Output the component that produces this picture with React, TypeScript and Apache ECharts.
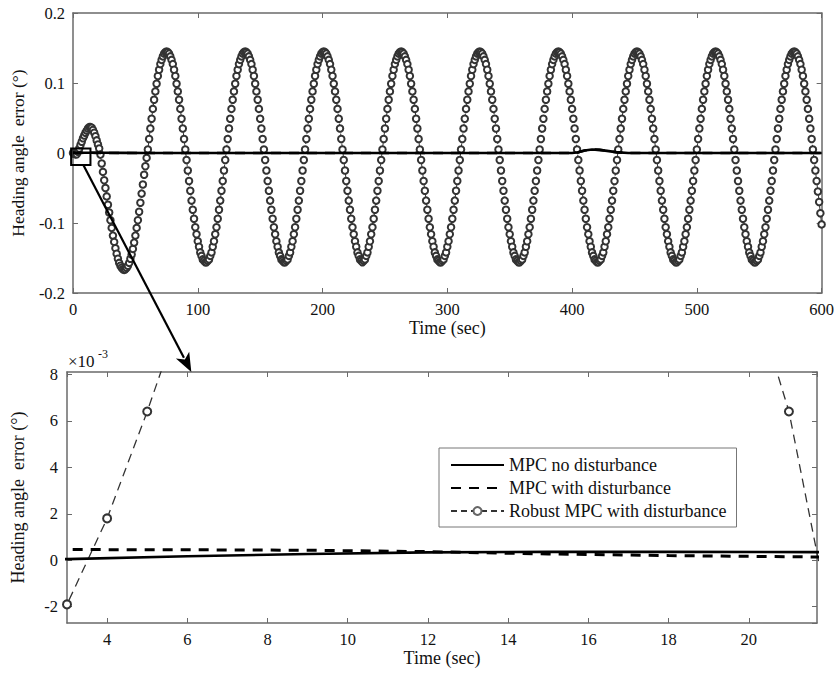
import React, { useEffect, useRef } from "react";
import * as echarts from "echarts";

// ---- Robust MPC with disturbance: heading angle error (deg), sampled every 1 s, t = 0..600
const robustStep = 1;
const robust: number[] = [
  // t 0-74
  0, -0.001, -0.002, -0.0019, 0.0018, 0.0064, 0.0114, 0.016, 0.021, 0.025,
  0.029, 0.032, 0.035, 0.037, 0.037, 0.036, 0.033, 0.029, 0.024, 0.018,
  0.0121, 0.0064, -0.0023, -0.015, -0.027, -0.039, -0.05, -0.062, -0.074, -0.085,
  -0.096, -0.107, -0.118, -0.127, -0.136, -0.144, -0.151, -0.157, -0.161, -0.164,
  -0.166, -0.167, -0.166, -0.164, -0.161, -0.157, -0.151, -0.145, -0.137, -0.128,
  -0.118, -0.107, -0.096, -0.084, -0.071, -0.058, -0.045, -0.031, -0.019, -0.007,
  0.005, 0.02, 0.035, 0.049, 0.063, 0.076, 0.088, 0.099, 0.11, 0.119,
  0.127, 0.133, 0.138, 0.142, 0.144,
  // t 75-137
  0.145, 0.144, 0.142, 0.138, 0.133, 0.127, 0.119, 0.11, 0.099, 0.088, 0.076, 0.063, 0.049, 0.035, 0.02, 0.005, -0.01, -0.025, -0.04, -0.054, -0.068, -0.081, -0.094, -0.106, -0.116, -0.126, -0.134, -0.142, -0.147, -0.152, -0.154, -0.156, -0.156, -0.154, -0.152, -0.147, -0.142, -0.134, -0.126, -0.116, -0.106, -0.094, -0.081, -0.068, -0.054, -0.04, -0.025, -0.01, 0.005, 0.02, 0.035, 0.049, 0.063, 0.076, 0.088, 0.099, 0.11, 0.119, 0.127, 0.133, 0.138, 0.142, 0.144,
  // t 138-200
  0.145, 0.144, 0.142, 0.138, 0.133, 0.127, 0.119, 0.11, 0.099, 0.088, 0.076, 0.063, 0.049, 0.035, 0.02, 0.005, -0.01, -0.025, -0.04, -0.054, -0.068, -0.081, -0.094, -0.106, -0.116, -0.126, -0.134, -0.142, -0.147, -0.152, -0.154, -0.156, -0.156, -0.154, -0.152, -0.147, -0.142, -0.134, -0.126, -0.116, -0.106, -0.094, -0.081, -0.068, -0.054, -0.04, -0.025, -0.01, 0.005, 0.02, 0.035, 0.049, 0.063, 0.076, 0.088, 0.099, 0.11, 0.119, 0.127, 0.133, 0.138, 0.142, 0.144,
  // t 201-262
  0.145, 0.144, 0.142, 0.138, 0.133, 0.127, 0.119, 0.11, 0.099, 0.088, 0.076, 0.063, 0.049, 0.035, 0.02, 0.005, -0.01, -0.025, -0.04, -0.054, -0.068, -0.081, -0.094, -0.106, -0.116, -0.126, -0.134, -0.142, -0.147, -0.152, -0.154, -0.156, -0.154, -0.152, -0.147, -0.142, -0.134, -0.126, -0.116, -0.106, -0.094, -0.081, -0.068, -0.054, -0.04, -0.025, -0.01, 0.005, 0.02, 0.035, 0.049, 0.063, 0.076, 0.088, 0.099, 0.11, 0.119, 0.127, 0.133, 0.138, 0.142, 0.144,
  // t 263-325
  0.145, 0.144, 0.142, 0.138, 0.133, 0.127, 0.119, 0.11, 0.099, 0.088, 0.076, 0.063, 0.049, 0.035, 0.02, 0.005, -0.01, -0.025, -0.04, -0.054, -0.068, -0.081, -0.094, -0.106, -0.116, -0.126, -0.134, -0.142, -0.147, -0.152, -0.154, -0.156, -0.156, -0.154, -0.152, -0.147, -0.142, -0.134, -0.126, -0.116, -0.106, -0.094, -0.081, -0.068, -0.054, -0.04, -0.025, -0.01, 0.005, 0.02, 0.035, 0.049, 0.063, 0.076, 0.088, 0.099, 0.11, 0.119, 0.127, 0.133, 0.138, 0.142, 0.144,
  // t 326-388
  0.145, 0.144, 0.142, 0.138, 0.133, 0.127, 0.119, 0.11, 0.099, 0.088, 0.076, 0.063, 0.049, 0.035, 0.02, 0.005, -0.01, -0.025, -0.04, -0.054, -0.068, -0.081, -0.094, -0.106, -0.116, -0.126, -0.134, -0.142, -0.147, -0.152, -0.154, -0.156, -0.156, -0.154, -0.152, -0.147, -0.142, -0.134, -0.126, -0.116, -0.106, -0.094, -0.081, -0.068, -0.054, -0.04, -0.025, -0.01, 0.005, 0.02, 0.035, 0.049, 0.063, 0.076, 0.088, 0.099, 0.11, 0.119, 0.127, 0.133, 0.138, 0.142, 0.144,
  // t 389-451
  0.145, 0.144, 0.142, 0.138, 0.133, 0.127, 0.119, 0.11, 0.099, 0.088, 0.076, 0.063, 0.049, 0.035, 0.02, 0.005, -0.01, -0.025, -0.04, -0.054, -0.068, -0.081, -0.094, -0.106, -0.116, -0.126, -0.134, -0.142, -0.147, -0.152, -0.154, -0.156, -0.156, -0.154, -0.152, -0.147, -0.142, -0.134, -0.126, -0.116, -0.106, -0.094, -0.081, -0.068, -0.054, -0.04, -0.025, -0.01, 0.005, 0.02, 0.035, 0.049, 0.063, 0.076, 0.088, 0.099, 0.11, 0.119, 0.127, 0.133, 0.138, 0.142, 0.144,
  // t 452-514
  0.145, 0.144, 0.142, 0.138, 0.133, 0.127, 0.119, 0.11, 0.099, 0.088, 0.076, 0.063, 0.049, 0.035, 0.02, 0.005, -0.01, -0.025, -0.04, -0.054, -0.068, -0.081, -0.094, -0.106, -0.116, -0.126, -0.134, -0.142, -0.147, -0.152, -0.154, -0.156, -0.156, -0.154, -0.152, -0.147, -0.142, -0.134, -0.126, -0.116, -0.106, -0.094, -0.081, -0.068, -0.054, -0.04, -0.025, -0.01, 0.005, 0.02, 0.035, 0.049, 0.063, 0.076, 0.088, 0.099, 0.11, 0.119, 0.127, 0.133, 0.138, 0.142, 0.144,
  // t 515-577
  0.145, 0.144, 0.142, 0.138, 0.133, 0.127, 0.119, 0.11, 0.099, 0.088, 0.076, 0.063, 0.049, 0.035, 0.02, 0.005, -0.01, -0.025, -0.04, -0.054, -0.068, -0.081, -0.094, -0.106, -0.116, -0.126, -0.134, -0.142, -0.147, -0.152, -0.154, -0.156, -0.156, -0.154, -0.152, -0.147, -0.142, -0.134, -0.126, -0.116, -0.106, -0.094, -0.081, -0.068, -0.054, -0.04, -0.025, -0.01, 0.005, 0.02, 0.035, 0.049, 0.063, 0.076, 0.088, 0.099, 0.11, 0.119, 0.127, 0.133, 0.138, 0.142, 0.144,
  // t 578-600
  0.145, 0.144, 0.142, 0.138, 0.133, 0.127, 0.119, 0.11, 0.099, 0.088, 0.076, 0.063, 0.049, 0.035, 0.02, 0.005, -0.01, -0.025, -0.04, -0.055, -0.07, -0.086, -0.102,
];

// ---- MPC controllers (deg)
const mpcTime = [0, 3, 6, 9, 12, 15, 18, 21.7, 25, 40, 60, 100, 200, 300, 400, 405, 410, 416, 422, 428, 435, 445, 500, 600];
const mpcNoDist = [0, 0.00005, 0.00017, 0.00027, 0.00034, 0.00036, 0.00036, 0.00035, 0.0003, 0.0002, 0.0001, 0, 0, 0, 0, 0.001, 0.0035, 0.005, 0.0045, 0.003, 0.0012, 0, 0, 0];
const mpcDist = [0.0005, 0.00046, 0.00045, 0.00043, 0.00037, 0.00027, 0.0002, 0.00014, 0.0001, 0.00005, 0, 0, 0, 0, 0, 0.001, 0.0035, 0.005, 0.0045, 0.003, 0.0012, 0, 0, 0];

const seriesNames = ["MPC no disturbance", "MPC with disturbance", "Robust MPC with disturbance"];
const topXTicks = { min: 0, max: 600, interval: 100 };
const topYTicks = { min: -0.2, max: 0.2, interval: 0.1 };
const zoomX = { min: 3, max: 21.7, step: 2 };
const zoomY = { min: -2.7, max: 8.1, step: 2 };
const zoomScale = 1000; // bottom panel in units of 10^-3 deg
const zoomBox = { x0: -1.5, x1: 14, y0: -0.017, y1: 0.0065 };
const arrowFrom = [8.3, -0.017];
const arrowTo = [6.1, 8.1];

const FONT = '"Liberation Serif", "Times New Roman", serif';
const AXIS_COLOR = "#6a6a6a";
const TEXT_COLOR = "#111";

function axisBase(extra: any) {
  return {
    type: "value",
    axisLine: { show: true, onZero: false, lineStyle: { color: AXIS_COLOR, width: 1.5 } },
    axisTick: { show: true, inside: true, length: 5, lineStyle: { color: AXIS_COLOR, width: 1 } },
    splitLine: { show: false },
    axisLabel: { color: TEXT_COLOR, fontSize: 16.5, fontFamily: FONT, margin: 8 },
    ...extra,
  };
}

export default function App() {
  const ref = useRef<HTMLDivElement>(null);
  useEffect(() => {
    if (!ref.current) return;
    const chart = echarts.init(ref.current, null, { renderer: "svg" });

    const robustPairs = robust.map((v, i) => [i * robustStep, v]);
    const zoomRobust = robust
      .map((v, i) => [i * robustStep, v * zoomScale])
      .filter((p) => p[0] >= 2 && p[0] <= 23);
    const noDistPairs = mpcTime.map((t, i) => [t, mpcNoDist[i]]);
    const distPairs = mpcTime.map((t, i) => [t, mpcDist[i]]);
    const noDistZoom = mpcTime.map((t, i) => [t, mpcNoDist[i] * zoomScale]);
    const distZoom = mpcTime.map((t, i) => [t, mpcDist[i] * zoomScale]);

    const fmt1 = (v: number) => String(Math.round(v * 10) / 10);
    const nameStyle = { color: TEXT_COLOR, fontSize: 18, fontFamily: FONT };
    const hiddenSymbol = { color: "#000", opacity: 0 };

    const option: any = {
      animation: false,
      backgroundColor: "#fff",
      color: ["#000", "#000", "#333"],
      textStyle: { fontFamily: FONT },
      grid: [
        { left: 73, right: 13, top: 13, bottom: 384, containLabel: false },
        { left: 67, right: 20, top: 372, bottom: 54, containLabel: false },
      ],
      xAxis: [
        axisBase({
          gridIndex: 0, position: "bottom", ...topXTicks,
          name: "Time (sec)", nameLocation: "middle", nameGap: 25, nameTextStyle: nameStyle,
        }),
        axisBase({ gridIndex: 0, position: "top", ...topXTicks, axisLabel: { show: false } }),
        axisBase({
          gridIndex: 1, position: "bottom", min: zoomX.min, max: zoomX.max,
          minInterval: zoomX.step, maxInterval: zoomX.step, splitNumber: 9,
          axisLabel: { color: TEXT_COLOR, fontSize: 16.5, fontFamily: FONT, margin: 8, showMinLabel: false, showMaxLabel: false },
          name: "Time (sec)", nameLocation: "middle", nameGap: 25, nameTextStyle: nameStyle,
        }),
        axisBase({
          gridIndex: 1, position: "top", min: zoomX.min, max: zoomX.max,
          minInterval: zoomX.step, maxInterval: zoomX.step, splitNumber: 9,
          axisLabel: { show: false },
        }),
      ],
      yAxis: [
        axisBase({
          gridIndex: 0, position: "left", ...topYTicks,
          axisLabel: { color: TEXT_COLOR, fontSize: 16.5, fontFamily: FONT, margin: 8, formatter: fmt1 },
          name: "Heading angle  error (°)", nameLocation: "middle", nameGap: 46,
          nameTextStyle: { ...nameStyle, fontSize: 17.5 },
        }),
        axisBase({ gridIndex: 0, position: "right", ...topYTicks, axisLabel: { show: false } }),
        axisBase({
          gridIndex: 1, position: "left", min: zoomY.min, max: zoomY.max,
          minInterval: zoomY.step, maxInterval: zoomY.step, splitNumber: 5,
          axisLabel: { color: TEXT_COLOR, fontSize: 16.5, fontFamily: FONT, margin: 9, showMinLabel: false, showMaxLabel: false },
          name: "Heading angle  error (°)", nameLocation: "middle", nameGap: 40,
          nameTextStyle: { ...nameStyle, fontSize: 18 },
        }),
        axisBase({
          gridIndex: 1, position: "right", min: zoomY.min, max: zoomY.max,
          minInterval: zoomY.step, maxInterval: zoomY.step, splitNumber: 5,
          axisLabel: { show: false },
        }),
      ],
      legend: {
        data: [
          { name: seriesNames[0], itemStyle: hiddenSymbol },
          { name: seriesNames[1], itemStyle: hiddenSymbol },
          { name: seriesNames[2], itemStyle: { color: "#666", borderColor: "#222", borderWidth: 1.2 } },
        ],
        orient: "vertical",
        left: 439,
        top: 448,
        padding: [8, 10, 7, 11],
        itemGap: 5,
        itemWidth: 53,
        itemHeight: 10,
        backgroundColor: "#fff",
        borderColor: "#777",
        borderWidth: 1,
        selectedMode: false,
        textStyle: { color: TEXT_COLOR, fontSize: 18, fontFamily: FONT },
      },
      series: [
        {
          name: seriesNames[2], type: "line", xAxisIndex: 0, yAxisIndex: 0,
          data: robustPairs, symbol: "emptyCircle", symbolSize: 6.5, showSymbol: true,
          itemStyle: { color: "#333", borderWidth: 1.6 },
          lineStyle: { color: "#333", width: 1, type: [6, 4] }, z: 2,
        },
        {
          name: seriesNames[0], type: "line", xAxisIndex: 0, yAxisIndex: 0,
          data: noDistPairs, symbol: "none", itemStyle: hiddenSymbol,
          lineStyle: { color: "#000", width: 2.6 }, z: 3,
        },
        {
          name: seriesNames[1], type: "line", xAxisIndex: 0, yAxisIndex: 0,
          data: distPairs, symbol: "none", itemStyle: hiddenSymbol,
          lineStyle: { color: "#000", width: 2.6, type: [10, 8] }, z: 3,
        },
        {
          name: seriesNames[0], type: "line", xAxisIndex: 2, yAxisIndex: 2,
          data: noDistZoom, symbol: "none", itemStyle: hiddenSymbol,
          lineStyle: { color: "#000", width: 2.6 }, z: 3, clip: true,
        },
        {
          name: seriesNames[1], type: "line", xAxisIndex: 2, yAxisIndex: 2,
          data: distZoom, symbol: "none", itemStyle: hiddenSymbol,
          lineStyle: { color: "#000", width: 3, type: [10, 8] }, z: 3, clip: true,
        },
        {
          name: seriesNames[2], type: "line", xAxisIndex: 2, yAxisIndex: 2,
          data: zoomRobust, symbol: "emptyCircle", symbolSize: 8, showSymbol: true,
          itemStyle: { color: "#333", borderWidth: 1.5 },
          lineStyle: { color: "#333", width: 1.3, type: [9, 6] }, z: 2, clip: true,
        },
      ],
    };
    chart.setOption(option);

    const tl = chart.convertToPixel({ xAxisIndex: 0, yAxisIndex: 0 }, [zoomBox.x0, zoomBox.y1]) as number[];
    const br = chart.convertToPixel({ xAxisIndex: 0, yAxisIndex: 0 }, [zoomBox.x1, zoomBox.y0]) as number[];
    const a0 = chart.convertToPixel({ xAxisIndex: 0, yAxisIndex: 0 }, arrowFrom) as number[];
    const a1 = chart.convertToPixel({ xAxisIndex: 2, yAxisIndex: 2 }, arrowTo) as number[];
    const dx = a1[0] - a0[0];
    const dy = a1[1] - a0[1];
    const len = Math.sqrt(dx * dx + dy * dy);
    const ux = dx / len;
    const uy = dy / len;
    const headLen = 19;
    const headHalf = 7.5;
    const bx = a1[0] - ux * headLen;
    const by = a1[1] - uy * headLen;
    const grid1 = chart.convertToPixel({ xAxisIndex: 2, yAxisIndex: 2 }, [zoomX.min, zoomY.max]) as number[];

    chart.setOption({
      graphic: [
        {
          type: "rect", z: 100,
          shape: { x: tl[0], y: tl[1], width: br[0] - tl[0], height: br[1] - tl[1] },
          style: { fill: "none", stroke: "#000", lineWidth: 2 },
        },
        {
          type: "line", z: 100,
          shape: { x1: a0[0], y1: a0[1], x2: bx + ux * 3, y2: by + uy * 3 },
          style: { stroke: "#000", lineWidth: 2.2 },
        },
        {
          type: "polygon", z: 100,
          shape: {
            points: [
              [a1[0], a1[1]],
              [bx - uy * headHalf, by + ux * headHalf],
              [bx + ux * 5, by + uy * 5],
              [bx + uy * headHalf, by - ux * headHalf],
            ],
          },
          style: { fill: "#000" },
        },
        {
          type: "text", z: 100, x: grid1[0] + 1, y: grid1[1] - 19,
          style: { text: "×10", fill: TEXT_COLOR, fontSize: 17, fontFamily: FONT },
        },
        {
          type: "text", z: 100, x: grid1[0] + 31, y: grid1[1] - 24,
          style: { text: "-3", fill: TEXT_COLOR, fontSize: 12, fontFamily: FONT },
        },
      ],
    });

    return () => chart.dispose();
  }, []);
  return <div ref={ref} style={{ position: "absolute", left: 0, top: 0, width: 837, height: 677 }} />;
}
